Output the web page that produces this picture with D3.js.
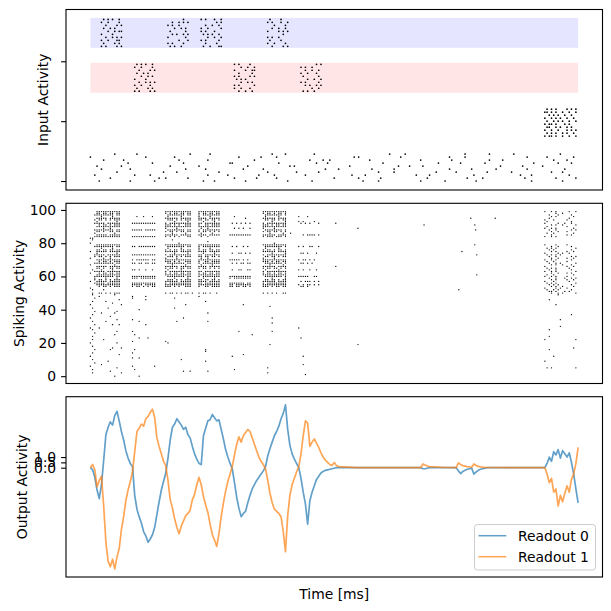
<!DOCTYPE html>
<html>
<head>
<meta charset="utf-8">
<script src="https://cdn.jsdelivr.net/npm/d3@7"></script>
<style>
  body { margin: 0; background: #fff; }
  svg { display: block; }
  text { font-family: "DejaVu Sans", sans-serif; }
</style>
</head>
<body>
<svg id="fig" width="611" height="611"></svg>
<script>
// ---- data ----
const binMs = 10;                       // one hex bit = one 10 ms bin
const tEnd = 2200;
const cueStarts = [50, 200, 350, 500, 650, 800, 950];
const cueSide = [0, 1, 0, 0, 1, 0, 1];  // 0 = blue cue, 1 = red cue
const recallStart = 2040;
const blueBand = [44.5, 54.5];
const redBand = [29.5, 39.5];

// input neurons 45..54, one 3-char block per blue cue
const blueRows = [
  "a14 520 48c 214", "428 a10 210 908", "918 044 a08 420", "254 808 124 a40", "840 294 548 010",
  "12c 408 a20 854", "4a0 128 904 248", "214 a40 248 108", "908 254 014 a24", "548 010 a24 420"
];
// input neurons 30..39, one block per red cue
const redRows = [
  "a14 248 520", "428 910 048", "910 a04 294", "254 128 a08", "840 540 124",
  "128 a14 408", "4a0 208 910", "214 84c 248", "908 124 a40", "548 a10 014"
];
// input neurons 15..24, recall window
const recallRows = ["5a49", "2a52", "4915", "3294", "5a28", "2549", "4a92", "1524", "6a49", "2a15"];
// input neurons 0..9, noise over the whole trial
const noiseRows = [
  "0800 2004 0000 1080 0200 0040 0800 0010 2000 0400 8002 0000 0100 040",
  "0040 0001 2008 0000 4010 0800 0002 0040 1000 0080 0020 4000 0800 201",
  "2000 0810 0000 0402 0008 1000 4000 0208 0000 1040 0004 0000 2100 008",
  "0008 0000 4100 0020 0000 8004 0100 0000 2040 0008 0400 1002 0000 840",
  "0400 2000 0010 0800 0402 0000 0020 8001 0040 0000 2008 0100 0400 020",
  "1002 0000 0800 4000 0100 0028 0000 0400 0010 8200 0000 0040 1008 000",
  "0000 4008 0020 0001 8000 0400 0210 0000 0800 0004 0100 2000 0080 104",
  "0201 0000 0080 0400 0020 0000 1048 0002 0000 0400 1000 0820 0000 410",
  "8000 0040 0200 0000 1004 0800 0000 0140 0008 0000 2040 0000 0402 002",
  "0010 0400 0004 0200 0000 2080 0400 0000 0102 0000 0040 0801 0000 080"
];

// recurrent neurons, first row = neuron 99; 8 blocks covering 0-1120 ms, last block = recall 2040-2200 ms
const hiddenRows = [
  "1ffc 0000 3ffc 7fe 0000 3ff8 000 00 4a09",
  "1b6c 0000 2b6c 5b6 0000 2d68 000 00 0240",
  "3fec 0000 1fec 5fe 0000 1fe8 000 00 1104",
  "0420 0488 1040 420 0400 1040 220 00 0a02",
  "1f7c 0000 3f7c 7be 0020 3f78 000 00 1008",
  "2d5c 0000 1d5c 6da 0000 1b58 000 00 4410",
  "1008 0000 0208 108 0000 0208 284 00 2004",
  "3efc 1ffc 2ffc 6fe 0aa8 2ff8 151 00 4124",
  "0b5c 0000 3a9c 4de 0000 3ad8 000 00 0a41",
  "1ffc 0000 3ffc 7fe 0000 3ff8 000 00 2010",
  "0240 0000 2100 240 0548 2100 000 00 4a02",
  "3fec 1f7c 1fec 5fe 0000 1fe8 000 00 1205",
  "1a6c 0000 2d6c 5aa 0000 2da8 000 00 0910",
  "2010 0000 0410 210 0000 0410 000 00 2402",
  "1f7c 0000 3f7c 7be 1ff8 3f78 0bd 00 0814",
  "3ffc 1ffc 2a8c 240 0000 2ee8 000 00 4a00",
  "c000 0000 0000 000 0000 0000 000 00 0000",
  "4000 0000 0400 000 0000 0000 000 00 0000",
  "0000 0000 0000 040 0000 0000 000 00 0000",
  "8000 0000 0080 000 0000 0100 000 00 0000",
  "1ffc 0000 3ffc 7fe 0000 3ff8 000 00 4210",
  "3fec 1bfc 1fec 5fe 0a50 1fe8 299 00 0904",
  "0420 0000 1040 420 0000 1040 000 00 2a01",
  "1b6c 0000 2b6c 5b6 0000 2d68 000 00 1404",
  "9f7c 0000 3f7c 7be 0000 3f78 000 00 0a12",
  "1008 0000 0208 108 09a8 0208 1a2 00 4148",
  "3efc 1ffc 2ffc 6fe 0000 2ff8 000 00 2a80",
  "2d5c 0000 1d5c 6da 0000 1b58 000 00 1205",
  "8240 0000 2100 240 0000 2100 000 00 0912",
  "1ffc 17ec 3ffc 7fe 1f50 3ff8 2d4 00 4a04",
  "0b5c 0000 3a9c 4de 0000 3ad8 000 00 2410",
  "3fec 1b6c 1fec 5fe 0ad8 1fe8 1a8 00 1281",
  "8010 0000 0410 210 0000 0410 000 00 0a44",
  "1f7c 0000 3f7c 7be 0000 3f78 000 00 4012",
  "1a6c 0000 2d6c 5aa 0000 2da8 000 00 2a08",
  "4420 1a48 1040 000 0998 1040 292 00 1204",
  "3efc 0000 2ffc 6fe 0000 2ff8 000 00 4a01",
  "8b6c 0000 2b6c 5b6 0000 2d68 000 00 0914",
  "1ffc 0000 3ffc 7fe 0000 3ff8 000 00 2402",
  "3fec 1ffc 1fec 5fe 1ff8 1fe8 3e6 00 4a10",
  "2108 1dfc 0208 108 17f8 0208 000 00 1225",
  "2d5c 0000 1d5c 6da 0000 1b58 000 00 0a12",
  "9f7c 0000 3f7c 7be 0000 3f78 175 00 4408",
  "3efc 1ffc 2ffc 6fe 1fd8 2ff8 000 00 2a01",
  "1ffc 1f7c 3ffc 7fe 1bf8 3ff8 2b5 00 1504",
  "0b5c 16ac 3a9c 4de 1b68 3ad8 1a0 00 0a42",
  "8000 0000 0000 000 0000 0000 000 00 4290",
  "4200 0000 0000 000 0000 0000 000 00 2504",
  "0000 0000 0000 000 0000 0000 000 00 1a28",
  "4d5c 0000 2d5a 5a4 0000 2a98 000 00 0941",
  "4010 0000 0000 000 0000 0000 000 00 0100",
  "0800 1040 0000 400 0000 0000 000 00 0000",
  "2000 1000 0200 000 0000 0000 000 00 0000",
  "0004 0040 0000 000 0000 0000 000 00 1000",
  "4100 0000 0000 080 0000 0000 000 00 0000",
  "0020 0000 0000 000 0000 0000 000 00 0000",
  "8002 0000 0010 000 0040 0000 000 00 0200",
  "0000 0000 0000 000 0000 0400 000 00 0000",
  "4080 0000 0200 000 0000 0000 000 00 0000",
  "0000 0200 0000 000 0000 0000 000 00 0000",
  "2008 0000 0000 000 0000 0000 000 00 0000",
  "0410 0000 0000 040 0000 0000 000 00 0000",
  "4000 0000 0000 000 0000 0000 000 00 0004",
  "0040 0000 0000 000 0000 0000 000 00 0000",
  "8000 0000 0020 000 0000 0200 000 00 0000",
  "0008 1000 0000 000 0000 0000 000 00 0080",
  "4100 0200 0100 040 0000 0000 000 00 0000",
  "0000 0000 0000 000 0000 0200 000 00 0000",
  "2024 0040 0000 000 0000 0000 000 00 0000",
  "0000 0000 0000 000 0000 0000 000 00 0080",
  "8800 0000 0000 000 0000 0000 200 00 0000",
  "4000 0000 0000 000 0000 0000 000 00 1000",
  "0008 1000 0000 000 0100 0200 000 00 0000",
  "2000 0000 0000 000 0000 0000 000 00 0000",
  "0010 0800 0000 000 0004 0000 000 00 0000",
  "4000 0000 0000 000 0000 0000 000 00 1000",
  "0000 0220 0000 000 0000 0000 100 00 0000",
  "4200 0000 0000 000 0000 0000 000 00 4001",
  "0000 1000 2000 000 0000 0000 000 00 0000",
  "8008 0000 1000 000 0000 0000 000 00 0000",
  "0000 0000 0000 000 0000 0400 000 00 0000",
  "4000 0000 0000 000 0000 0000 000 00 0000",
  "0022 0000 0000 000 0000 0000 000 00 0002",
  "2040 0800 0000 080 0000 0000 000 00 1000",
  "0000 0000 0000 080 0000 0000 000 00 0000",
  "4000 1000 0000 000 0000 0000 000 00 0000",
  "0004 0000 0000 000 0040 0000 000 00 0000",
  "8000 0000 0000 000 0800 0000 080 00 0400",
  "0000 1200 0000 000 0000 0000 000 00 0000",
  "4000 0000 0040 000 0000 0000 000 00 0000",
  "0080 0000 0000 080 0000 0000 000 00 4000",
  "2000 0000 0000 000 0000 0000 000 00 0000",
  "0400 0000 0000 000 0000 0000 080 00 0000",
  "8000 1004 0000 000 0000 0000 000 00 0000",
  "0008 0000 0000 000 0000 0800 000 00 2801",
  "4000 0800 0000 000 0400 0000 000 00 0000",
  "0040 0000 0024 040 0000 0000 000 00 0000",
  "4002 0000 0000 000 0000 0800 000 00 0000",
  "0000 0000 0000 000 0000 0000 040 00 0000",
  "0010 0200 0000 000 0000 0000 000 00 0000"
];
// isolated recurrent spikes [time ms, neuron]
const hiddenExtra = [
  [903, 86], [1107, 92], [1207, 89], [1505, 91], [1716, 95], [1826, 95], [1734, 91], [1738, 88],
  [1734, 79], [1676, 75], [1743, 73], [1743, 61], [1662, 52], [1107, 66], [1207, 19]
];

// readouts
const readoutTime = d3.range(0, 1120, 10).concat([
  1120, 1200, 1300, 1400, 1490, 1500, 1510, 1520, 1530, 1600, 1650,
  1660, 1670, 1680, 1690, 1700, 1710, 1720, 1730, 1740, 1750, 1760, 1770, 1780,
  1790, 1900, 2000, 2050,
  2060, 2070, 2080, 2090, 2100, 2110, 2120, 2130, 2140, 2150, 2160, 2170, 2180, 2190, 2200
]);
const readout0 = [
  0.0, -0.2, -0.9, -2.1, -2.9, -1.6, 0.7, 3.1, 3.8, 4.3,
  4.0, 4.9, 5.3, 4.4, 3.4, 2.6, 1.6, 0.9, 0.4, 0.1,
  -2.6, -3.9, -4.6, -5.2, -6.0, -6.4, -7.0, -6.7, -6.3, -5.6,
  -4.4, -3.2, -2.1, -1.3, -0.5, 0.9, 2.6, 3.8, 4.1, 4.6,
  4.3, 4.0, 3.6, 3.8, 3.1, 2.8, 2.0, 1.3, 0.8, 0.4,
  0.3, 3.0, 3.7, 4.4, 4.5, 5.0, 4.7, 4.4, 4.5, 3.6,
  2.7, 1.7, 1.0, 0.4, -0.1, -1.4, -2.8, -3.8, -4.6, -4.3,
  -4.1, -3.3, -2.6, -2.0, -1.6, -1.2, -0.9, -0.6, -0.3, 0.1,
  1.1, 1.8, 2.4, 3.0, 3.4, 3.9, 4.6, 5.1, 5.9, 3.6,
  2.1, 1.3, 0.8, 0.4, 0.0, -1.0, -2.3, -3.4, -5.3, -3.1,
  -2.3, -1.7, -1.1, -0.8, -0.5, -0.35, -0.25, -0.2, -0.15, -0.1,
  -0.05, 0,
  0, 0, 0, 0, 0, -0.1, -0.1, -0.05, 0, 0, 0,
  -0.3, -0.55, -0.35, -0.25, -0.15, -0.1, -0.05, -0.6, -0.4, -0.25, -0.15, -0.1, -0.05,
  0, 0, 0, 0,
  0.4, 1.0, 0.6, 1.5, 1.2, 1.7, 0.9, 1.6, 1.3, 1.0, 1.4, 0.5, -0.6, -2.0, -3.3
];
const readout1 = [
  0.0, 0.3, -0.2, -1.8, -1.2, -0.8, -3.6, -7.0, -8.8, -9.3,
  -8.6, -9.5, -8.4, -7.6, -5.8, -4.6, -3.1, -2.1, -1.3, -0.4,
  1.5, 3.4, 3.7, 4.1, 3.9, 4.6, 4.8, 5.2, 5.5, 4.7,
  2.8, 2.0, 1.3, 0.6, 0.2, -1.2, -3.0, -3.8, -4.8, -5.6,
  -6.2, -5.5, -5.0, -4.5, -4.3, -4.0, -3.0, -2.5, -1.6, -0.9,
  -1.6, -2.7, -3.5, -4.2, -5.3, -6.3, -6.8, -7.4, -6.2, -4.6,
  -3.3, -2.2, -1.3, -0.6, 0.1, 1.2, 2.2, 2.9, 2.4, 3.0,
  3.3, 3.6, 3.4, 2.8, 2.2, 1.6, 1.0, 0.6, 0.3, -0.1,
  -1.2, -2.4, -3.3, -3.9, -4.1, -4.3, -4.6, -6.0, -7.9, -4.5,
  -2.6, -1.6, -1.0, -0.4, 0.1, 1.3, 3.0, 4.4, 4.2, 2.0,
  2.4, 2.7, 2.3, 1.9, 1.4, 1.0, 0.7, 0.5, 0.3, 0.2,
  0.5, 0.2,
  0.1, 0, 0, 0, 0, 0.35, 0.25, 0.15, 0.1, 0.02, 0,
  0.45, 0.3, 0.2, 0.15, 0.1, 0.07, 0.05, 0.35, 0.2, 0.12, 0.08, 0.05, 0.03,
  0.02, 0, 0, 0,
  -0.6, -1.4, -1.0, -2.3, -2.0, -3.6, -2.6, -3.2, -2.4, -1.7, -2.3, -1.1, -0.6, 0.4, 1.9
];
const readoutNames = ["Readout 0", "Readout 1"];
const readoutColors = ["#1f77b4", "#ff7f0e"];
const outputTicks = [0, 0.5, 1.0];
const spikeTicks = [0, 20, 40, 60, 80, 100];
const inputTicks = [0, 20, 40];

// ---- helpers ----
function hexTimes(str, t0) {
  const out = [];
  [...str.replace(/\s/g, "")].forEach((ch, i) => {
    const v = parseInt(ch, 16);
    for (let b = 0; b < 4; b++) if (v & (8 >> b)) out.push(t0 + (i * 4 + b) * binMs);
  });
  return out;
}

const inputSpikes = [];
const blueStarts = cueStarts.filter((s, k) => cueSide[k] === 0);
const redStarts = cueStarts.filter((s, k) => cueSide[k] === 1);
blueRows.forEach((row, j) => row.split(" ").forEach((seg, k) =>
  hexTimes(seg, blueStarts[k]).forEach(t => inputSpikes.push([t, 45 + j]))));
redRows.forEach((row, j) => row.split(" ").forEach((seg, k) =>
  hexTimes(seg, redStarts[k]).forEach(t => inputSpikes.push([t, 30 + j]))));
recallRows.forEach((row, j) => hexTimes(row, recallStart).forEach(t => inputSpikes.push([t, 15 + j])));
noiseRows.forEach((row, j) => hexTimes(row, 0).forEach(t => inputSpikes.push([t, j])));

const hiddenSpikes = [];
hiddenRows.forEach((row, i) => {
  const n = 99 - i;
  const g = row.split(" ");
  hexTimes(g.slice(0, 8).join(""), 0).forEach(t => hiddenSpikes.push([t, n]));
  hexTimes(g[8], recallStart).forEach(t => hiddenSpikes.push([t, n]));
});
hiddenExtra.forEach(d => hiddenSpikes.push(d));

// ---- layout ----
const svg = d3.select("#fig");
const L = 66, R = 602.5;
const panels = [[9.5, 190], [203.3, 383.5], [396.7, 577]];
const x = d3.scaleLinear().domain([-110, 2310]).range([L, R]);
const fs = 13.9;

const yIn = d3.scaleLinear().domain([-3.0, 57.3]).range([panels[0][1], panels[0][0]]);
const ySp = d3.scaleLinear().domain([-4.4, 104]).range([panels[1][1], panels[1][0]]);
const allOut = readout0.concat(readout1);
const [lo, hi] = d3.extent(allOut);
const pad = (hi - lo) * 0.05;
const yOut = d3.scaleLinear().domain([lo - pad, hi + pad]).range([panels[2][1], panels[2][0]]);

function yAxis(scale, ticks, fmt) {
  const g = svg.append("g").attr("transform", `translate(${L},0)`)
    .call(d3.axisLeft(scale).tickValues(ticks).tickSize(4.9).tickPadding(4.9).tickFormat(fmt));
  g.select(".domain").remove();
  g.selectAll(".tick line").attr("stroke", "#000").attr("stroke-width", 1.1);
  g.selectAll(".tick text").attr("font-size", fs).attr("fill", "#000")
    .attr("font-family", "DejaVu Sans, sans-serif");
}

// panel 1: input raster with cue bands
svg.append("rect").attr("x", x(0)).attr("width", x(tEnd) - x(0))
  .attr("y", yIn(blueBand[1])).attr("height", yIn(blueBand[0]) - yIn(blueBand[1]))
  .attr("fill", "rgb(229,229,255)");
svg.append("rect").attr("x", x(0)).attr("width", x(tEnd) - x(0))
  .attr("y", yIn(redBand[1])).attr("height", yIn(redBand[0]) - yIn(redBand[1]))
  .attr("fill", "rgb(255,229,229)");
svg.append("g").selectAll("circle").data(inputSpikes).join("circle")
  .attr("cx", d => x(d[0])).attr("cy", d => yIn(d[1])).attr("r", 0.85).attr("fill", "#000");

// panel 2: recurrent raster
svg.append("g").selectAll("circle").data(hiddenSpikes).join("circle")
  .attr("cx", d => x(d[0])).attr("cy", d => ySp(d[1])).attr("r", 0.65).attr("fill", "#000");

// panel 3: readouts
const line = d3.line().x((d, i) => x(readoutTime[i])).y(d => yOut(d));
[readout0, readout1].forEach((vals, k) => {
  svg.append("path").datum(vals).attr("d", line)
    .attr("fill", "none").attr("stroke", readoutColors[k]).attr("stroke-opacity", 0.7)
    .attr("stroke-width", 1.7).attr("stroke-linejoin", "round");
});

// frames and axes
panels.forEach(p => svg.append("rect").attr("x", L).attr("y", p[0])
  .attr("width", R - L).attr("height", p[1] - p[0])
  .attr("fill", "none").attr("stroke", "#000").attr("stroke-width", 1.1));
yAxis(yIn, inputTicks, () => "");
yAxis(ySp, spikeTicks, d3.format("d"));
yAxis(yOut, outputTicks, d3.format(".1f"));

// labels
function vLabel(txt, cx, cy) {
  svg.append("text").attr("transform", `translate(${cx},${cy}) rotate(-90)`)
    .attr("text-anchor", "middle").attr("dominant-baseline", "central")
    .attr("font-size", fs).text(txt);
}
vLabel("Input Activity", 43, (panels[0][0] + panels[0][1]) / 2);
vLabel("Spiking Activity", 18.5, (panels[1][0] + panels[1][1]) / 2);
vLabel("Output Activity", 21.5, (panels[2][0] + panels[2][1]) / 2);
svg.append("text").attr("x", (L + R) / 2).attr("y", 593.5)
  .attr("text-anchor", "middle").attr("dominant-baseline", "central")
  .attr("font-size", fs).text("Time [ms]");

// legend
const lg = svg.append("g").attr("transform", "translate(474.5,524.5)");
lg.append("rect").attr("width", 121).attr("height", 45.5).attr("rx", 2.8)
  .attr("fill", "#fff").attr("fill-opacity", 0.8).attr("stroke", "#cccccc").attr("stroke-width", 1);
readoutNames.forEach((name, k) => {
  const yy = 11.2 + k * 21;
  lg.append("line").attr("x1", 4).attr("x2", 31.8).attr("y1", yy).attr("y2", yy)
    .attr("stroke", readoutColors[k]).attr("stroke-opacity", 0.7).attr("stroke-width", 1.5);
  lg.append("text").attr("x", 43.5).attr("y", yy).attr("dominant-baseline", "central")
    .attr("font-size", fs).text(name);
});
</script>
</body>
</html>
